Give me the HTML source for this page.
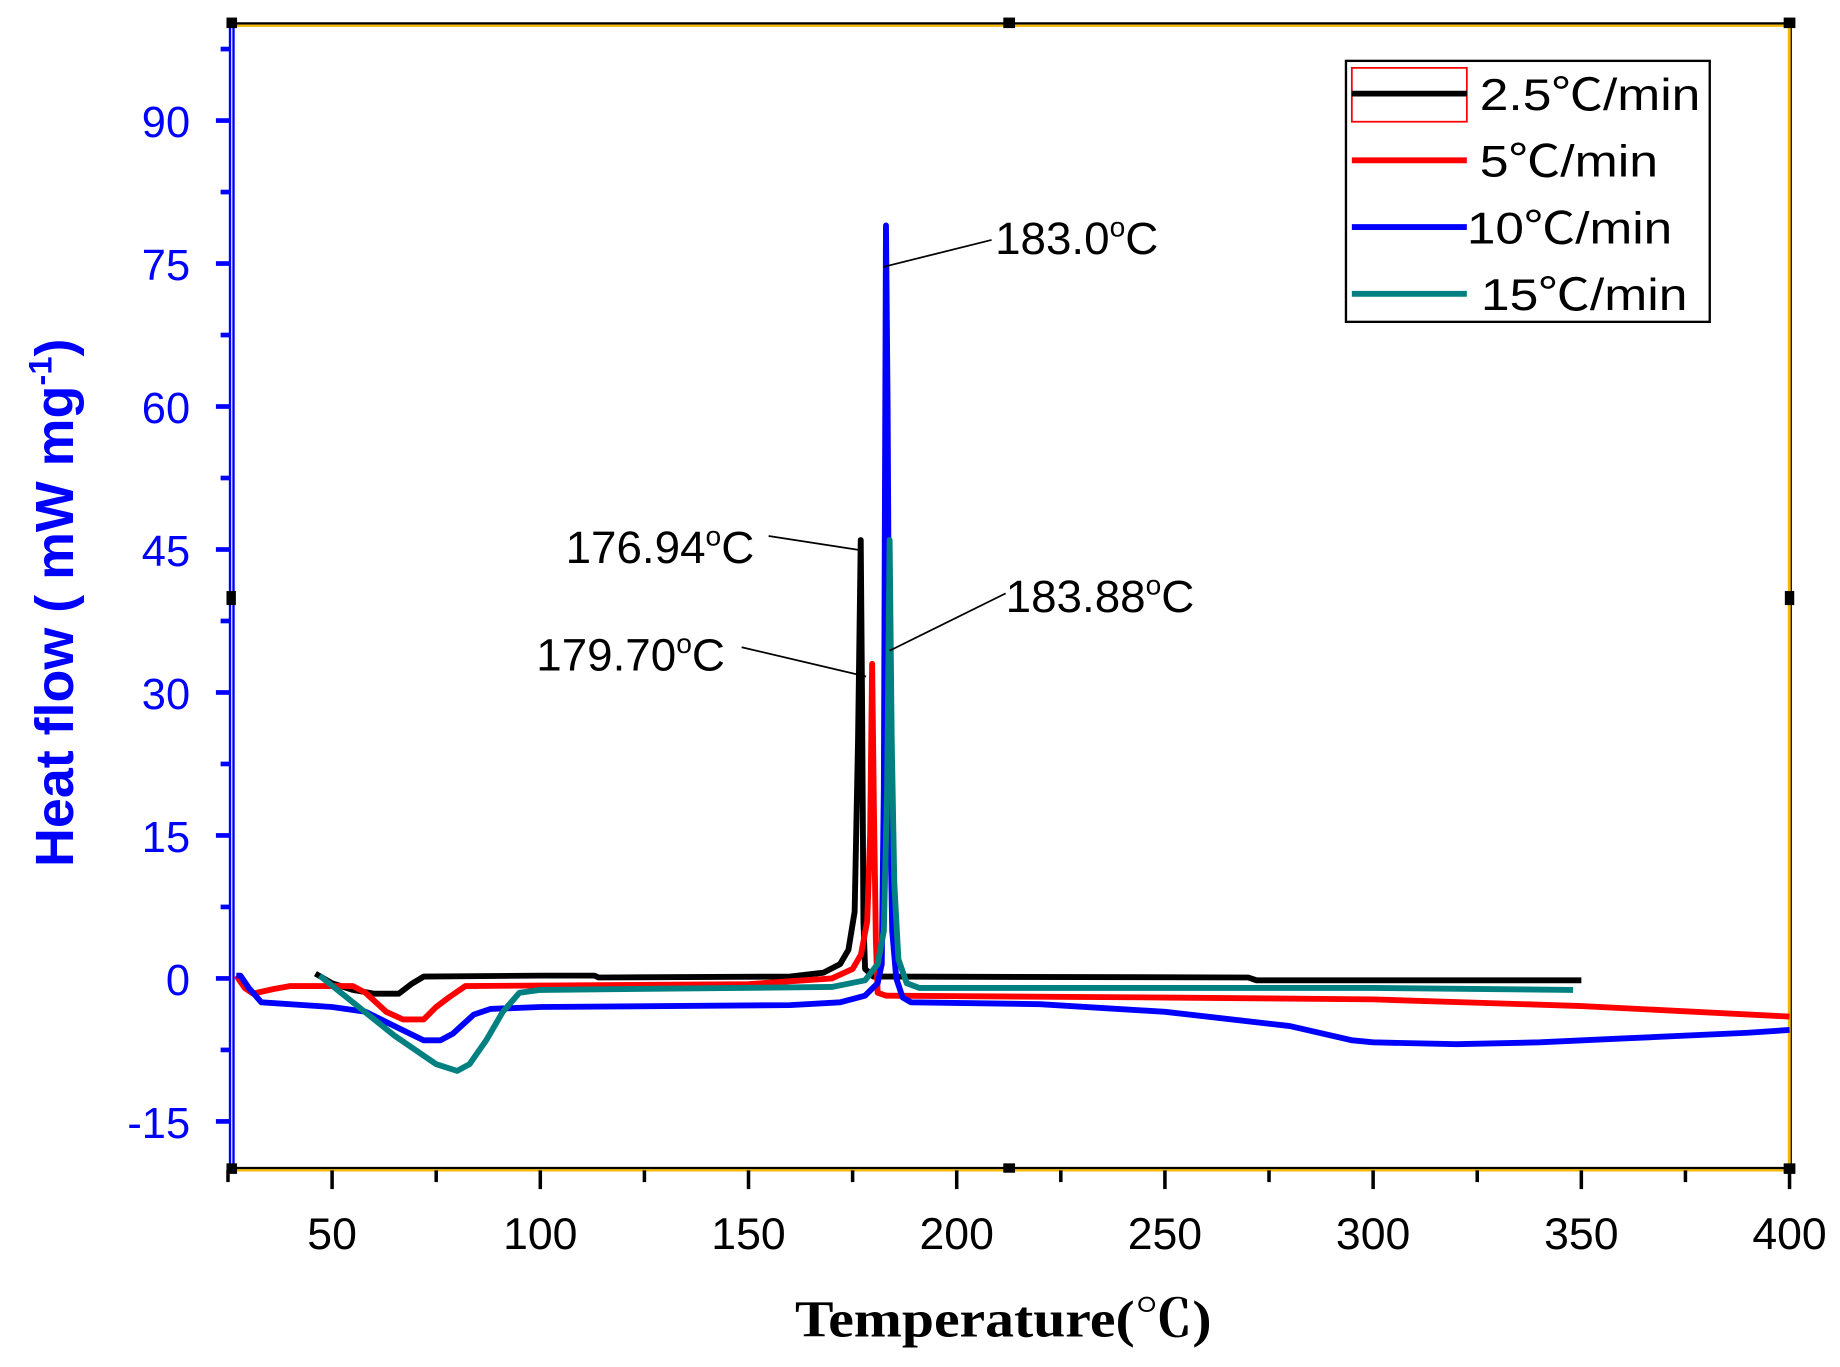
<!DOCTYPE html>
<html><head><meta charset="utf-8"><style>
html,body{margin:0;padding:0;background:#fff;}
svg{display:block;}
text{font-family:"Liberation Sans","Noto Sans CJK SC",sans-serif;}
</style></head><body>
<svg id="chart" width="1840" height="1367" viewBox="0 0 1568 1168" preserveAspectRatio="none" xmlns="http://www.w3.org/2000/svg">
<g id="frame">
<line x1="197" y1="20" x2="1525" y2="20" stroke="#000" stroke-width="2"/>
<line x1="197" y1="22" x2="1525" y2="22" stroke="#f5b800" stroke-width="2"/>
<line x1="1525" y1="20" x2="1525" y2="998" stroke="#f5b800" stroke-width="3"/>
<line x1="1526.5" y1="20" x2="1526.5" y2="998" stroke="#000" stroke-width="1"/>
<line x1="197" y1="998" x2="1525" y2="998" stroke="#000" stroke-width="2"/>
<line x1="197" y1="1000" x2="1525" y2="1000" stroke="#f5b800" stroke-width="2"/>
<line x1="196" y1="20" x2="196" y2="1000" stroke="#00f" stroke-width="2"/>
<line x1="199" y1="20" x2="199" y2="1000" stroke="#00f" stroke-width="2"/>
<rect x="193" y="15" width="9" height="9" fill="#000"/><rect x="855" y="15" width="10" height="9" fill="#000"/><rect x="1520" y="15" width="10" height="9" fill="#000"/>
<rect x="193" y="505" width="8" height="12" fill="#000"/><rect x="1521" y="505" width="8" height="12" fill="#000"/>
<rect x="193" y="994" width="9" height="9" fill="#000"/><rect x="855" y="994" width="10" height="8" fill="#000"/><rect x="1520" y="994" width="10" height="9" fill="#000"/>
</g>
<g id="yaxis"></g>
<g id="xaxis"></g>
<g id="series"></g>
<text x="855" y="1142" text-anchor="middle" font-size="44" font-weight="bold" textLength="355" lengthAdjust="spacingAndGlyphs" style="font-family:'Liberation Serif','Noto Serif CJK SC',serif">Temperature(℃)</text>
<text transform="translate(62,515) rotate(-90)" text-anchor="middle" font-size="46" font-weight="bold" fill="#00f">Heat flow ( mW mg<tspan dy="-18" font-size="28">-1</tspan><tspan dy="18">)</tspan></text>
<g>
<rect x="1147" y="52" width="310" height="223" fill="#fff" stroke="#000" stroke-width="2"/>
<rect x="1152" y="58" width="98" height="46" fill="none" stroke="#f00" stroke-width="1.5"/>
<g><line x1="1152" y1="80" x2="1250" y2="80" stroke="#000" stroke-width="5"/><text x="1261" y="94" font-size="38" textLength="188" lengthAdjust="spacingAndGlyphs">2.5℃/min</text></g>
<g><line x1="1152" y1="137" x2="1250" y2="137" stroke="#f00" stroke-width="5"/><text x="1261" y="151" font-size="38" textLength="152" lengthAdjust="spacingAndGlyphs">5℃/min</text></g>
<g><line x1="1152" y1="194" x2="1250" y2="194" stroke="#00f" stroke-width="5"/><text x="1250" y="208" font-size="38" textLength="175" lengthAdjust="spacingAndGlyphs">10℃/min</text></g>
<g><line x1="1152" y1="251" x2="1250" y2="251" stroke="#008080" stroke-width="5"/><text x="1262" y="265" font-size="38" textLength="176" lengthAdjust="spacingAndGlyphs">15℃/min</text></g>
</g>
<g font-size="39">
<g><line x1="753" y1="228" x2="845" y2="205" stroke="#000" stroke-width="1.5"/><text x="848" y="217">183.0<tspan dy="-15" font-size="24">o</tspan><tspan dy="15">C</tspan></text></g>
<g><line x1="655" y1="458" x2="733" y2="470" stroke="#000" stroke-width="1.5"/><text x="482" y="481">176.94<tspan dy="-15" font-size="24">o</tspan><tspan dy="15">C</tspan></text></g>
<g><line x1="632" y1="553" x2="738" y2="578" stroke="#000" stroke-width="1.5"/><text x="457" y="573">179.70<tspan dy="-15" font-size="24">o</tspan><tspan dy="15">C</tspan></text></g>
<g><line x1="857" y1="507" x2="758" y2="556" stroke="#000" stroke-width="1.5"/><text x="857" y="523">183.88<tspan dy="-15" font-size="24">o</tspan><tspan dy="15">C</tspan></text></g>
</g>
</svg>
<script>
const yTicks=[-15,0,15,30,45,60,75,90];
const xTicks=[50,100,150,200,250,300,350,400];
const s25x=[46,50,55,60,66,69,72,100,113,114,160,168,172,174,175.5,176.3,176.94,177.3,177.6,178,180,270,272,350];
const s25y=[0.5,-0.5,-1.2,-1.6,-1.6,-0.6,0.2,0.3,0.3,0.1,0.2,0.6,1.5,3,7,25,46,28,6,1,0.2,0.1,-0.2,-0.2];
const s5x=[27,29,31,36,40,55,58,63,67,72,75,78,82,150,170,175,177,178.5,179.2,179.7,180.1,180.6,181,183,250,300,350,400];
const s5y=[0.3,-1,-1.6,-1.1,-0.8,-0.8,-1.5,-3.5,-4.3,-4.3,-3,-2,-0.8,-0.6,0,1,2.5,6,15,33,18,4,-1.5,-1.8,-2,-2.2,-2.9,-4];
const s10x=[27,28,30,33,50,58,65,72,76,79,84,88,100,160,172,178,181,182,182.5,183.0,183.4,183.9,184.5,185.5,187,189,220,250,280,295,300,320,340,360,390,400];
const s10y=[0.3,0.3,-1,-2.5,-3,-3.5,-5,-6.5,-6.5,-5.8,-3.8,-3.2,-3,-2.8,-2.5,-1.8,-0.5,1.5,20,79,60,20,5,0,-2,-2.5,-2.7,-3.5,-5,-6.5,-6.7,-6.9,-6.7,-6.3,-5.7,-5.4];
const s15x=[47,55,65,75,80,83,87,91,95,100,170,178,181,182.5,183.3,183.88,184.4,185,186,188,191,250,300,348];
const s15y=[0.3,-2.5,-6,-9,-9.7,-9,-6.5,-3.5,-1.5,-1.2,-0.9,-0.2,1.5,5,20,46,25,10,2,-0.5,-1,-1,-1,-1.2];
const NS='http://www.w3.org/2000/svg';
const X=v=>283+(v-50)*(1525-283)/350;
const Y=v=>836-v*(836-103)/90;
function mk(tag,attrs,parent){const e=document.createElementNS(NS,tag);for(const k in attrs)e.setAttribute(k,attrs[k]);parent.appendChild(e);return e;}
const ya=document.getElementById('yaxis');
for(let v=-15;v<=97.5;v+=7.5){
  const major=yTicks.includes(v);
  const t=mk('line',{x1:major?184:188,y1:Y(v),x2:196,y2:Y(v),stroke:'#00f','stroke-width':4},ya);
  
  
}
yTicks.forEach(v=>{
  const t=mk('text',{x:162,y:Y(v)+14,'text-anchor':'end','font-size':37,fill:'#00f'},ya);
  t.textContent=v;
  
  
});
const xa=document.getElementById('xaxis');
for(let v=25;v<=400;v+=25){
  const major=xTicks.includes(v);
  const t=mk('line',{x1:X(v),y1:1000,x2:X(v),y2:major?1016:1010,stroke:'#000','stroke-width':3},xa);
  
  
}
xTicks.forEach(v=>{
  const t=mk('text',{x:X(v),y:1067,'text-anchor':'middle','font-size':38},xa);
  t.textContent=v;
  
  
});
const sg=document.getElementById('series');
function line(xs,ys,color,name){
  const d=xs.map((x,i)=>(i?'L':'M')+X(x).toFixed(1)+','+Y(ys[i]).toFixed(1)).join(' ');
  const p=mk('path',{d:d,fill:'none',stroke:color,'stroke-width':5,'stroke-linejoin':'round'},sg);
  
  
}
line(s25x,s25y,'#000','series-2-5-c-min');
line(s5x,s5y,'#f00','series-5-c-min');
line(s10x,s10y,'#00f','series-10-c-min');
line(s15x,s15y,'#008080','series-15-c-min');
</script>
</body></html>
